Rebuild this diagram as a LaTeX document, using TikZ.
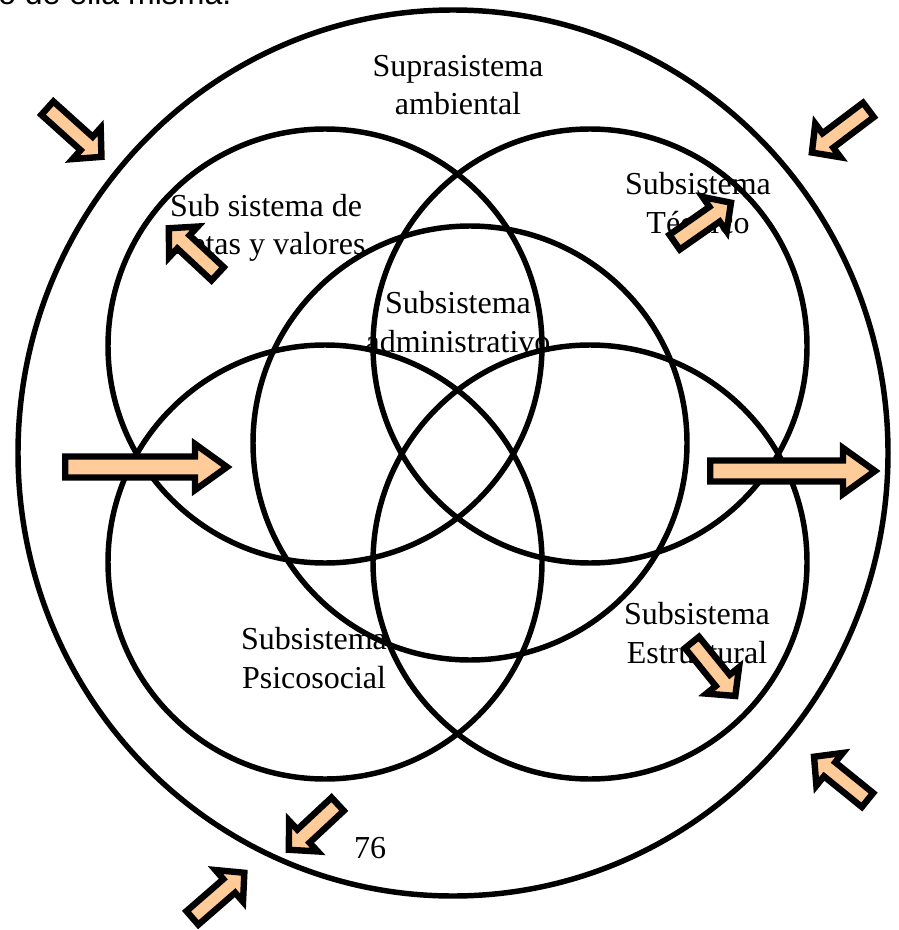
\documentclass[tikz,border=0pt]{standalone}
\usepackage{fontspec}
\setmainfont{Liberation Serif}
\newfontfamily\arialfont{Liberation Sans}
\usepackage{tikz}
\usetikzlibrary{calc}
\definecolor{arrowfill}{HTML}{FFCC99}

\begin{document}
\begin{tikzpicture}[x=0.75pt, y=-0.75pt, line width=4.1pt,
  lbl/.style={align=center, inner sep=0pt, font=\fontsize{24}{29}\selectfont},
  blockarrow/.style={draw, fill=arrowfill, line width=4.8pt, line join=miter}]
  \useasboundingbox (0,0) rectangle (898,930);

  % last line of the text above, cut by the page
  \node[anchor=base east, inner sep=0pt, font=\arialfont\fontsize{24}{29}\selectfont] (prevline) at (234,5) {o de ella misma.};

  % Suprasistema ambiental
  \draw (453,453) ellipse [x radius=435, y radius=443];

  % 5 subsystems
  \foreach \cx/\cy in {325/346, 590/346, 470/443, 325/562, 590/562}
    \draw (\cx,\cy) circle [radius=217];

  % labels
  \node[lbl] (supra) at (458,85) {Suprasistema\\ambiental};
  \node[lbl] (metas) at (266,228) {Sub sistema de\\metas y valores};
  \node[lbl] (tecnico) at (698,203) {Subsistema\\Técnico};
  \node[lbl] (admin) at (458,322) {Subsistema\\administrativo};
  \node[lbl] (psico) at (314,658) {Subsistema\\Psicosocial};
  \node[lbl] (estruc) at (697,633) {Subsistema\\Estructural};
  \node[lbl] (pagenum) at (370,848) {76};

  % block arrows: tail x/y, angle, length, head length, shaft half width, head half width
  \foreach \tx/\ty/\ang/\len/\hl/\sw/\hw in {
      45/106/-42/76/20/9/21,  871/108/-143/74/20/9/21,
      62/467/0/165/32/10.5/23,    707/471/0/168/32/10.5/23,
      220/276/137/70/20/9/21, 672/244/35/72/20/9/21,
      690/640/-51/72/20/9/21, 870/802/141/72/20/9/21,
      340/802/-137/70/20/9/21, 190/920/41/72/20/9/21} {
    \draw[blockarrow, shift={(\tx,\ty)}, rotate=\ang]
      (3.2,-\sw) -- ({\len-\hl},-\sw) -- ({\len-\hl},-\hw) -- (\len,0)
      -- ({\len-\hl},\hw) -- ({\len-\hl},\sw) -- (3.2,\sw) -- cycle;
  }
\end{tikzpicture}
\end{document}
